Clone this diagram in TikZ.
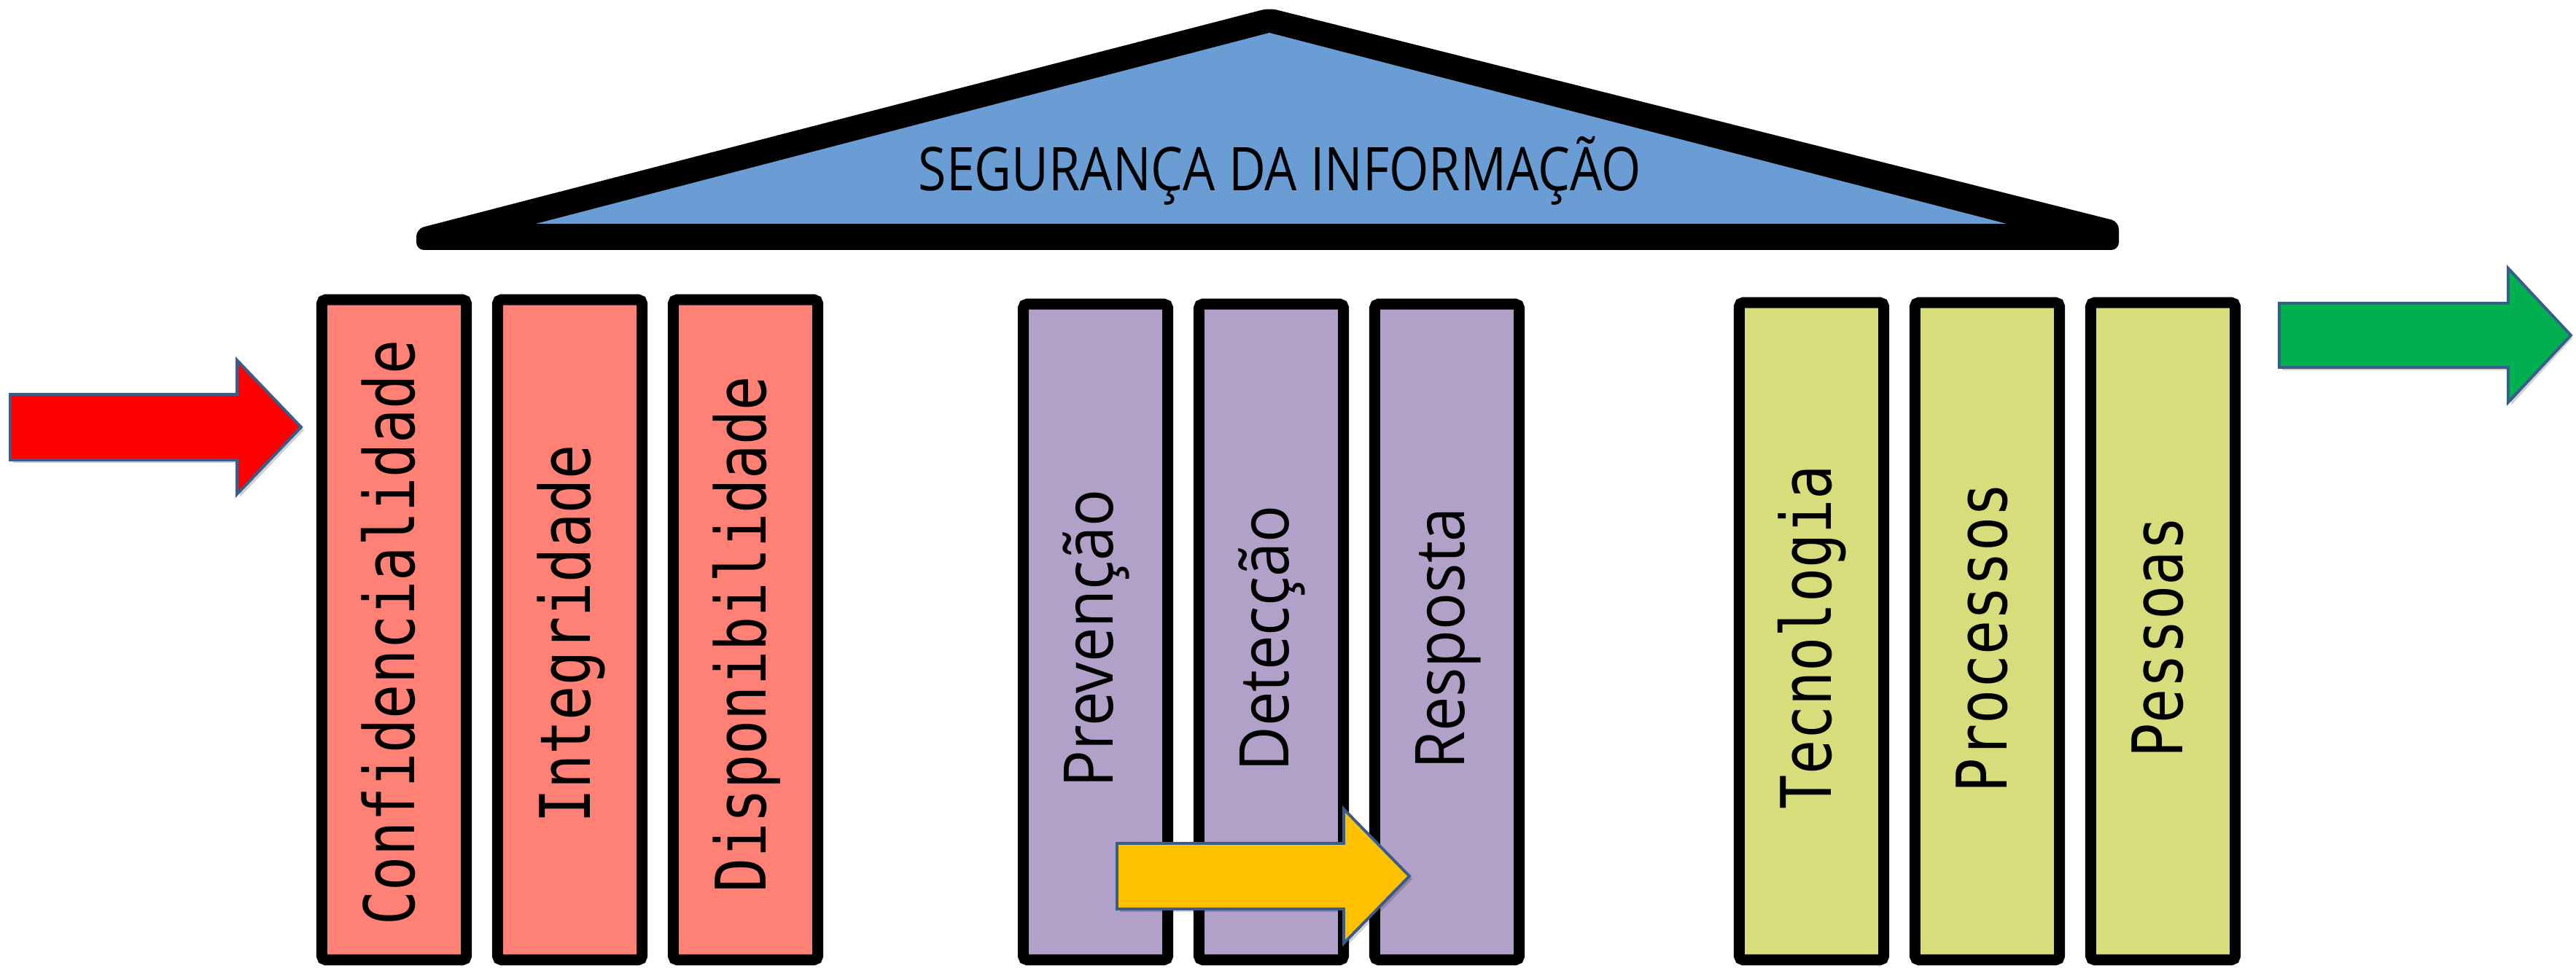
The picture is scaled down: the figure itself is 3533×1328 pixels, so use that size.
\documentclass[tikz,border=0pt]{standalone}
\usepackage{fontspec}
\usepackage{graphicx}
\newfontfamily\monofnt{DejaVu Sans Mono}
\newfontfamily\sansfnt{Open Sans}
\newsavebox\fitbox
\newcommand\fitto[2]{\sbox\fitbox{#2}\pgfmathsetmacro\fitfac{#1/\the\wd\fitbox}\scalebox{\fitfac}[1]{\usebox\fitbox}}
\definecolor{roofblue}{RGB}{106,157,212}
\definecolor{pinkred}{RGB}{255,128,117}
\definecolor{lilac}{RGB}{177,160,199}
\definecolor{limey}{RGB}{216,221,124}
\definecolor{arrowedge}{RGB}{56,93,138}
\definecolor{arrowred}{RGB}{255,0,0}
\definecolor{arrowgold}{RGB}{255,192,0}
\definecolor{arrowgreen}{RGB}{0,176,80}
\tikzset{
  pillar/.style={draw=black, line width=0.15cm, rounded corners=1.5pt, inner sep=0pt, minimum width=1.98cm},
  redpillar/.style={pillar, fill=pinkred, minimum height=9.05cm},
  lilacpillar/.style={pillar, fill=lilac, minimum height=8.99cm},
  limepillar/.style={pillar, fill=limey, minimum height=9.01cm},
  monolabel/.style={rotate=90, anchor=base, inner sep=0pt, font=\monofnt\fontsize{27.2pt}{30pt}\selectfont},
  sanslabel/.style={rotate=90, anchor=base, inner sep=0pt, font=\sansfnt\fontsize{26.7pt}{30pt}\selectfont},
  titlelabel/.style={anchor=base, inner sep=0pt, font=\sansfnt\fontsize{23.5pt}{26pt}\selectfont},
  blockarrow/.style={draw=arrowedge, line width=1.1pt, line join=miter},
  arrowshadow/.style={fill=black, opacity=0.18}
}
\begin{document}
\begin{tikzpicture}[x=0.01cm,y=-0.01cm]
\useasboundingbox (0,0) rectangle (3533,1328);
\fill[white] (0,0) rectangle (3533,1328);

% roof
\fill[black, rounded corners=3pt] (571,343) -- (571,314) -- (1741,11) -- (2906,304) -- (2906,343) -- cycle;
\fill[roofblue] (735,307) -- (1741,45) -- (2752,307) -- cycle;
\node[titlelabel] (title) at (1755,262) {\fitto{9.9cm}{SEGURANÇA DA INFORMAÇÃO}};

% red pillars
\node[redpillar] (c1) at (540.5,864) {};
\node[redpillar] (c2) at (781.5,864) {};
\node[redpillar] (c3) at (1022.5,864) {};
\node[monolabel] (t1) at (568.5,868) {\scalebox{0.82}[1]{Confidencialidade}};
\node[monolabel] (t2) at (809.5,870) {\scalebox{0.82}[1]{Integridade}};
\node[monolabel] (t3) at (1050.5,870) {\scalebox{0.82}[1]{Disponibilidade}};

% lilac pillars
\node[lilacpillar] (c4) at (1502.5,867) {};
\node[lilacpillar] (c5) at (1743.5,867) {};
\node[lilacpillar] (c6) at (1984.5,867) {};
\node[sanslabel] (t4) at (1526.5,876) {\scalebox{0.9}[1]{Prevenção}};
\node[sanslabel] (t5) at (1767.5,876) {\scalebox{0.9}[1]{Detecção}};
\node[sanslabel] (t6) at (2008.5,876) {\scalebox{0.9}[1]{Resposta}};

% lime pillars
\node[limepillar] (c7) at (2484.5,866) {};
\node[limepillar] (c8) at (2725.5,866) {};
\node[limepillar] (c9) at (2966.5,866) {};
\node[monolabel] (t7) at (2511.5,874) {\scalebox{0.82}[1]{Tecnologia}};
\node[monolabel] (t8) at (2752.5,875) {\scalebox{0.82}[1]{Processos}};
\node[monolabel] (t9) at (2993.5,874) {\scalebox{0.82}[1]{Pessoas}};

% block arrows
\fill[arrowshadow] (18,545) -- (329,545) -- (329,498) -- (417,590) -- (329,682) -- (329,635) -- (18,635) -- cycle;
\draw[blockarrow, fill=arrowred] (14,541) -- (325,541) -- (325,494) -- (413,586) -- (325,678) -- (325,631) -- (14,631) -- cycle;

\fill[arrowshadow] (1536,1161) -- (1847,1161) -- (1847,1114) -- (1937,1206) -- (1847,1298) -- (1847,1251) -- (1536,1251) -- cycle;
\draw[blockarrow, fill=arrowgold] (1532,1157) -- (1843,1157) -- (1843,1110) -- (1933,1202) -- (1843,1294) -- (1843,1247) -- (1532,1247) -- cycle;

\fill[arrowshadow] (3130,420) -- (3444,420) -- (3444,372) -- (3528,464) -- (3444,556) -- (3444,508) -- (3130,508) -- cycle;
\draw[blockarrow, fill=arrowgreen] (3126,416) -- (3440,416) -- (3440,368) -- (3526,460) -- (3440,552) -- (3440,504) -- (3126,504) -- cycle;
\end{tikzpicture}
\end{document}
